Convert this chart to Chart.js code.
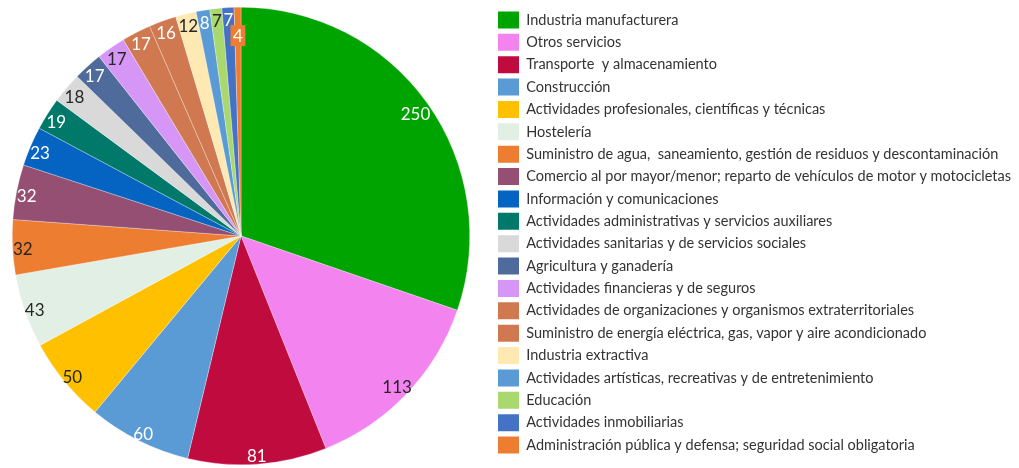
<!DOCTYPE html>
<html><head><meta charset="utf-8">
<script src="https://cdn.jsdelivr.net/npm/chart.js@4"></script>
<style>html,body{margin:0;padding:0;background:#fff;overflow:hidden}#wrap{width:1019px;height:468px}</style>
</head><body><div id="wrap"><canvas id="c" width="1019" height="468"></canvas></div>
<script>
const categories = [
  'Industria manufacturera',
  'Otros servicios',
  'Transporte  y almacenamiento',
  'Construcción',
  'Actividades profesionales, científicas y técnicas',
  'Hostelería',
  'Suministro de agua,  saneamiento, gestión de residuos y descontaminación',
  'Comercio al por mayor/menor; reparto de vehículos de motor y motocicletas',
  'Información y comunicaciones',
  'Actividades administrativas y servicios auxiliares',
  'Actividades sanitarias y de servicios sociales',
  'Agricultura y ganadería',
  'Actividades financieras y de seguros',
  'Actividades de organizaciones y organismos extraterritoriales',
  'Suministro de energía eléctrica, gas, vapor y aire acondicionado',
  'Industria extractiva',
  'Actividades artísticas, recreativas y de entretenimiento',
  'Educación',
  'Actividades inmobiliarias',
  'Administración pública y defensa; seguridad social obligatoria'
];
const values = [250, 113, 81, 60, 50, 43, 32, 32, 23, 19, 18, 17, 17, 17, 16, 12, 8, 7, 7, 4];
const sliceColors = ['#00A400','#F383EE','#C00B3F','#5B9BD5','#FFC000','#E2EFE4','#ED7D31','#954F72',
  '#0563C1','#00796B','#D9D9D9','#4E6B9B','#D696F5','#D0784F','#D0784F','#FFE9B3','#5B9BD5','#A9D86E','#4472C4','#ED7D31'];
const labelColors = ['#fff','#262626','#fff','#fff','#262626','#262626','#262626','#fff',
  '#fff','#fff','#262626','#fff','#262626','#fff','#fff','#262626','#fff','#262626','#fff','#fff'];

const layoutFix = {
  id: 'layoutFix',
  afterLayout(chart) {
    chart.chartArea = {left: 12, top: 7, right: 470, bottom: 465, width: 458, height: 458};
    const lg = chart.legend;
    const pad = lg.options.labels.padding;
    const dx = 498 - (lg.left + pad);
    lg.left += dx;
    lg.right = chart.width;
    lg.width = lg.right - lg.left;
    const dy = 11.5 - (lg.top + pad);
    lg.top += dy; lg.bottom += dy;
  }
};

const sliceLabels = {
  id: 'sliceLabels',
  afterDatasetsDraw(chart) {
    const ctx = chart.ctx;
    const meta = chart.getDatasetMeta(0);
    ctx.save();
    ctx.font = '17px Lato';
    ctx.textAlign = 'center';
    ctx.textBaseline = 'middle';
    meta.data.forEach((arc, i) => {
      const p = arc.getProps(['x','y','startAngle','endAngle','outerRadius'], true);
      const mid = (p.startAngle + p.endAngle) / 2;
      const txt = String(values[i]);
      const w = ctx.measureText(txt).width, h = 13;
      const c = Math.cos(mid), s = Math.sin(mid);
      let r = p.outerRadius * 0.955;
      const lim = p.outerRadius + 2;
      while (r > 0) {
        const fx = r * c + Math.sign(c) * w / 2, fy = r * s + Math.sign(s) * h / 2;
        if (Math.hypot(fx, fy) <= lim) break;
        r -= 0.5;
      }
      let boxed = false;
      if ((p.endAngle - p.startAngle) * r < w) { r -= 16; boxed = true; }
      const px = p.x + r * c, py = p.y + r * s + 3;
      if (boxed) {
        ctx.fillStyle = sliceColors[i];
        ctx.fillRect(px - w / 2 - 2.5, py - h / 2 - 5, w + 5, h + 8);
      }
      ctx.fillStyle = labelColors[i];
      ctx.fillText(txt, px, py);
    });
    ctx.restore();
  }
};

new Chart(document.getElementById('c'), {
  type: 'pie',
  data: {
    labels: categories,
    datasets: [{
      data: values,
      backgroundColor: sliceColors,
      borderColor: 'rgba(255,255,255,0.6)',
      borderWidth: 0.5
    }]
  },
  options: {
    responsive: false,
    animation: false,
    layout: {padding: 0},
    plugins: {
      tooltip: {enabled: false},
      legend: {
        position: 'right',
        align: 'start',
        labels: {
          boxWidth: 21,
          boxHeight: 17,
          padding: 5.37,
          color: '#333333',
          font: {family: 'Lato', size: 14.5},
          generateLabels(chart) {
            const items = Chart.overrides.pie.plugins.legend.labels.generateLabels(chart);
            items.forEach(it => { it.lineWidth = 0; });
            return items;
          }
        }
      }
    }
  },
  plugins: [layoutFix, sliceLabels]
});
</script>
</body></html>
